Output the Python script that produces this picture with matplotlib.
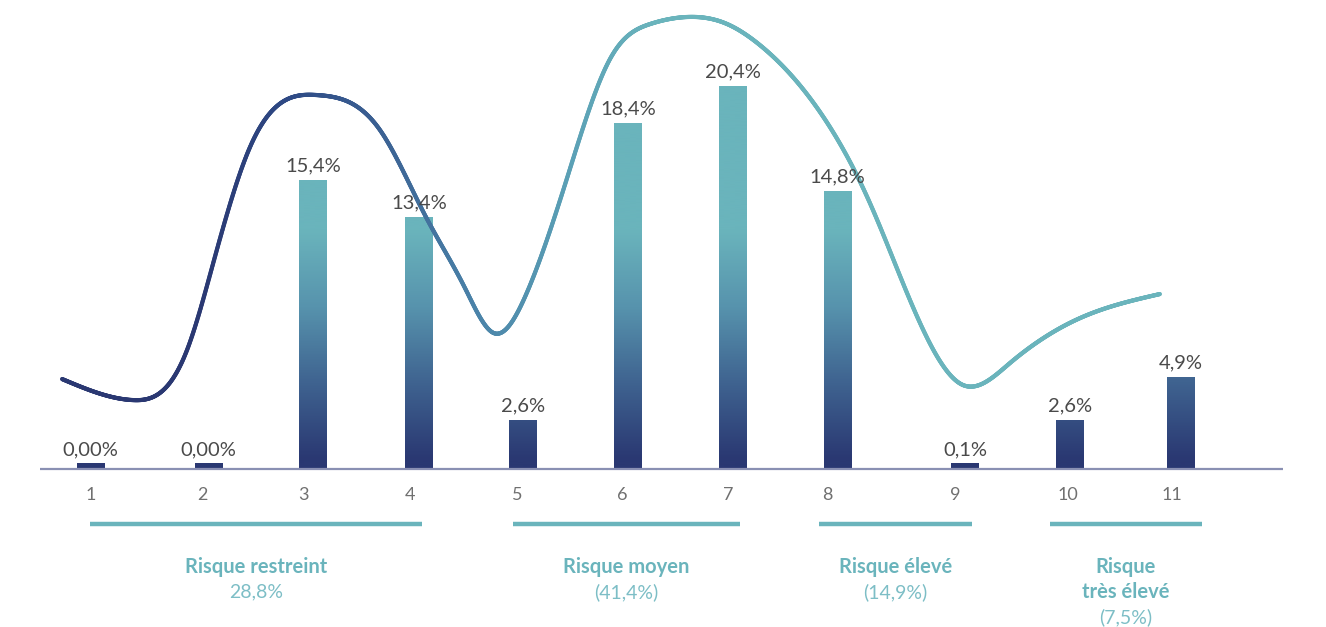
import numpy as np
import matplotlib
matplotlib.use("Agg")
import matplotlib.pyplot as plt
from matplotlib.colors import LinearSegmentedColormap, Normalize
from matplotlib.collections import LineCollection

# ---------------- data ----------------
categories = ["1", "2", "3", "4", "5", "6", "7", "8", "9", "10", "11"]
values = [0.0, 0.0, 15.4, 13.4, 2.6, 18.4, 20.4, 14.8, 0.1, 2.6, 4.9]
value_labels = ["0,00%", "0,00%", "15,4%", "13,4%", "2,6%", "18,4%",
                "20,4%", "14,8%", "0,1%", "2,6%", "4,9%"]

group_names = ["Risque restreint", "Risque moyen", "Risque élevé", "Risque\ntrès élevé"]
group_shares = ["28,8%", "(41,4%)", "(14,9%)", "(7,5%)"]

# decorative trend curve (x in category units, y in %)
curve_x = [0.739, 1.390, 1.885, 2.133, 2.463, 3.086, 3.655, 4.067, 4.434, 4.700,
           4.984, 5.379, 5.764, 6.131, 6.452, 6.818, 7.139, 7.690, 8.139, 8.607,
           9.001, 9.432, 10.074, 10.807]
curve_y = [4.79, 3.67, 6.33, 11.12, 17.13, 19.89, 18.03, 13.51, 9.63, 7.23,
           9.15, 15.64, 21.81, 23.67, 24.04, 23.72, 22.55, 18.99, 14.26, 7.77,
           4.47, 5.64, 8.03, 9.31]

# ---------------- layout ----------------
bar_pos = [1.0, 2.082, 3.04, 4.012, 4.966, 5.929, 6.889, 7.85, 9.019, 9.982, 11.0]
tick_pos = [1.0, 2.03, 2.95, 3.93, 4.91, 5.88, 6.85, 7.76, 8.93, 9.96, 10.92]
group_spans = [(0.995, 4.040), (4.874, 6.956), (7.681, 9.084), (9.799, 11.193)]

NAVY = "#2a3872"
TEAL = "#6ab4bc"
GROUP_COL = "#6ab4bc"
SHARE_COL = "#7dbec6"

plt.rcParams["font.family"] = ["Lato", "DejaVu Sans"]

fig = plt.figure(figsize=(13.26, 6.27), dpi=100)
ax = fig.add_axes([0, 0, 1, 1])
ax.set_axis_off()
XL = (0.170, 12.330)
YL = (-8.40, 24.95)

cmap = LinearSegmentedColormap.from_list("nt", [NAVY, "#3f6390", "#5793ad", TEAL])

# bars with vertical gradient
heights = np.maximum(values, 0.3)
bars = ax.bar(bar_pos, heights, width=0.255, color="none", edgecolor="none", zorder=2)
grad = np.linspace(YL[0], YL[1], 400).reshape(-1, 1)
for b in bars:
    im = ax.imshow(grad, extent=(XL[0], XL[1], YL[0], YL[1]), origin="lower",
                   aspect="auto", cmap=cmap, norm=Normalize(0.5, 12.7),
                   interpolation="bicubic", zorder=2)
    im.set_clip_path(b)

# axis baseline
ax.plot([0.537, 11.94], [0, 0], color="#8a90b3", lw=1.6, zorder=3, solid_capstyle="butt")

# value labels
for x, h, lab in zip(bar_pos, heights, value_labels):
    ax.annotate(lab, (x, h), xytext=(0, 4), textcoords="offset points",
                ha="center", va="bottom", fontsize=14.5, color="#4a4a4a", zorder=5)

# tick labels
for x, c in zip(tick_pos, categories):
    ax.text(x, -1.38, c, ha="center", va="center", fontsize=13, color="#707070")


# natural cubic spline through the curve points (x is monotonic)
def natural_spline(xs, ys, n=2000):
    x = np.asarray(xs, float)
    y = np.asarray(ys, float)
    m = len(x)
    h = np.diff(x)
    A = np.zeros((m, m))
    r = np.zeros(m)
    A[0, 0] = A[-1, -1] = 1.0
    for i in range(1, m - 1):
        A[i, i - 1] = h[i - 1]
        A[i, i] = 2 * (h[i - 1] + h[i])
        A[i, i + 1] = h[i]
        r[i] = 6 * ((y[i + 1] - y[i]) / h[i] - (y[i] - y[i - 1]) / h[i - 1])
    M = np.linalg.solve(A, r)
    xx = np.linspace(x[0], x[-1], n)
    idx = np.clip(np.searchsorted(x, xx) - 1, 0, m - 2)
    x0, x1 = x[idx], x[idx + 1]
    hh = x1 - x0
    a = (x1 - xx) / hh
    b = (xx - x0) / hh
    yy = (a * y[idx] + b * y[idx + 1]
          + ((a ** 3 - a) * M[idx] + (b ** 3 - b) * M[idx + 1]) * hh ** 2 / 6)
    return xx, yy


cx_, cy_ = natural_spline(curve_x, curve_y)
pts = np.column_stack([cx_, cy_])
segs = np.stack([pts[:-1], pts[1:]], axis=1)
mid_x = (pts[:-1, 0] + pts[1:, 0]) / 2
curve_cmap = LinearSegmentedColormap.from_list(
    "c", [NAVY, "#2e4a85", "#3b6193", "#4a82a8", "#5a9fb5", TEAL])
lc = LineCollection(segs, cmap=curve_cmap, norm=Normalize(2.0, 6.2), linewidths=3.0,
                    capstyle="round", joinstyle="round", zorder=4)
lc.set_array(mid_x)
ax.add_collection(lc)

# group bands and labels
for (x0, x1), name, share in zip(group_spans, group_names, group_shares):
    ax.plot([x0, x1], [-2.93, -2.93], color=GROUP_COL, lw=3.2, solid_capstyle="butt")
    cx = (x0 + x1) / 2
    y = -5.21
    for ln in name.split("\n"):
        ax.text(cx, y, ln, ha="center", va="center", fontsize=14.5, fontweight="bold",
                color=GROUP_COL)
        y -= 1.33
    ax.text(cx, y, share, ha="center", va="center", fontsize=14, color=SHARE_COL)

ax.set_xlim(*XL)
ax.set_ylim(*YL)
fig.savefig("out.png", dpi=100, facecolor="white")
